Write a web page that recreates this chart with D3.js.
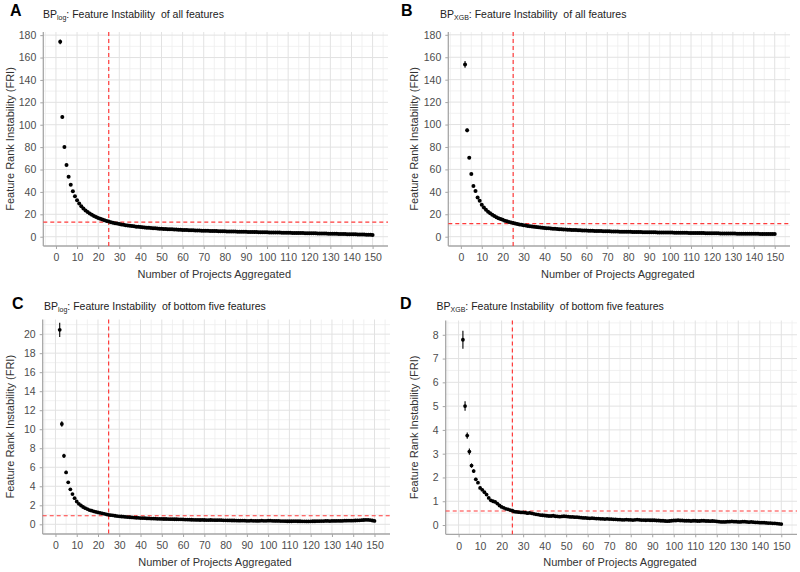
<!DOCTYPE html>
<html><head><meta charset="utf-8">
<script src="https://cdn.jsdelivr.net/npm/d3@7"></script>
<style>
body{margin:0;background:#fff;}
text{font-family:"Liberation Sans",Arial,sans-serif;}
</style></head>
<body><svg id="chart" width="800" height="572"></svg>
<script>
// ---------- DATA ----------
const projectsAggregated = d3.range(2, 151); // x values 2..150
const xTicks = [0,10,20,30,40,50,60,70,80,90,100,110,120,130,140,150];

const fri_all_log = [174,107,80,64,53.5,46.5,40.5,36.2,32.5,
29.6,27.2,25.2,23.5,22.0,20.7,19.5,18.5,17.6,16.8,
16.0,15.3,14.7,14.1,13.5,13.0,12.5,12.1,11.7,11.3,
10.95,10.6,10.3,10.0,9.75,9.5,9.25,9.0,8.8,8.6,
8.4,8.2,8.05,7.9,7.75,7.6,7.45,7.3,7.2,7.05,
6.95,6.85,6.75,6.65,6.55,6.45,6.35,6.25,6.15,6.05,
5.97,5.9,5.82,5.75,5.68,5.6,5.53,5.47,5.4,5.34,
5.28,5.22,5.16,5.1,5.05,5.0,4.95,4.9,4.85,4.8,
4.75,4.7,4.65,4.6,4.55,4.5,4.46,4.42,4.38,4.34,
4.3,4.25,4.2,4.16,4.12,4.08,4.03,3.98,3.94,3.9,
3.86,3.82,3.78,3.74,3.7,3.66,3.62,3.58,3.54,3.5,
3.46,3.42,3.38,3.34,3.3,3.26,3.22,3.18,3.14,3.1,
3.06,3.02,2.98,2.94,2.9,2.85,2.8,2.76,2.72,2.68,
2.63,2.58,2.54,2.5,2.45,2.4,2.35,2.3,2.25,2.2,
2.15,2.1,2.04,1.98,1.92,1.86,1.8,1.74,1.68,1.6];
const err_all_log = [2.2,1.4,1.0,0.8,0.7,0.6,0.5,0.45,0.4];

const fri_all_xgb = [153.6,94.8,70.4,56,45.2,40.8,35,32,28.5,
26.0,24.0,22.3,20.8,19.5,18.4,17.4,16.5,15.7,15.0,
14.3,13.7,13.1,12.6,12.1,11.7,11.3,10.9,10.55,10.2,
9.9,9.6,9.35,9.1,8.85,8.6,8.4,8.2,8.0,7.8,
7.62,7.45,7.3,7.15,7.0,6.85,6.72,6.6,6.48,6.36,
6.25,6.15,6.05,5.95,5.86,5.77,5.68,5.6,5.52,5.44,
5.37,5.3,5.23,5.16,5.1,5.04,4.98,4.92,4.86,4.8,
4.75,4.7,4.65,4.6,4.55,4.5,4.46,4.42,4.38,4.34,
4.3,4.26,4.22,4.18,4.14,4.1,4.06,4.03,4.0,3.97,
3.94,3.9,3.87,3.84,3.81,3.78,3.75,3.72,3.69,3.66,
3.63,3.6,3.57,3.54,3.51,3.48,3.45,3.42,3.39,3.36,
3.33,3.3,3.27,3.24,3.21,3.18,3.15,3.12,3.09,3.06,
3.03,3.0,2.97,2.94,2.91,2.88,2.85,2.82,2.79,2.76,
2.74,2.72,2.7,2.68,2.66,2.64,2.62,2.6,2.58,2.56,
2.54,2.52,2.5,2.48,2.46,2.44,2.42,2.4,2.38,2.36];
const err_all_xgb = [3.0,1.6,1.0,0.8,0.7,0.6,0.5,0.45,0.4];

const fri_bottom_log = [20.45,10.55,7.2,5.46,4.41,3.68,3.18,2.75,2.4,
2.15,1.98,1.82,1.7,1.6,1.5,1.43,1.36,1.3,1.25,
1.2,1.15,1.1,1.05,1.0,0.96,0.94,0.9,0.87,0.84,
0.82,0.8,0.78,0.76,0.74,0.72,0.71,0.69,0.68,0.66,
0.65,0.64,0.62,0.62,0.6,0.6,0.59,0.58,0.58,0.57,
0.56,0.56,0.55,0.54,0.54,0.53,0.53,0.52,0.52,0.51,
0.5,0.5,0.49,0.48,0.47,0.46,0.46,0.45,0.46,0.45,
0.44,0.44,0.45,0.44,0.43,0.43,0.44,0.43,0.42,0.42,
0.41,0.41,0.4,0.4,0.39,0.38,0.38,0.39,0.38,0.37,
0.37,0.38,0.37,0.37,0.36,0.37,0.38,0.37,0.37,0.38,
0.38,0.37,0.36,0.36,0.35,0.34,0.34,0.33,0.32,0.32,
0.32,0.33,0.33,0.32,0.32,0.31,0.31,0.3,0.3,0.31,
0.32,0.32,0.33,0.33,0.34,0.34,0.35,0.35,0.34,0.35,
0.36,0.36,0.37,0.36,0.37,0.38,0.38,0.39,0.38,0.39,
0.4,0.41,0.42,0.43,0.45,0.47,0.46,0.44,0.4,0.36];
const err_bottom_log = [0.75,0.3,0.22,0.18,0.14,0.12,0.1,0.09,0.08,0.07,0.07,0.06,0.06,0.06,0.05];

const fri_bottom_xgb = [7.79,5.0,3.76,3.09,2.5,2.27,1.92,1.78,1.56,
1.48,1.38,1.28,1.14,1.04,1.0,0.97,0.9,0.82,0.76,
0.72,0.68,0.66,0.63,0.6,0.56,0.55,0.54,0.53,0.53,
0.52,0.5,0.51,0.49,0.47,0.45,0.44,0.42,0.41,0.4,
0.39,0.38,0.38,0.39,0.37,0.36,0.35,0.36,0.37,0.36,
0.35,0.34,0.34,0.33,0.33,0.32,0.31,0.3,0.3,0.29,
0.28,0.29,0.28,0.27,0.27,0.26,0.26,0.25,0.26,0.25,
0.25,0.24,0.24,0.23,0.23,0.22,0.22,0.23,0.22,0.22,
0.21,0.22,0.23,0.22,0.21,0.21,0.2,0.21,0.2,0.2,
0.2,0.19,0.19,0.18,0.18,0.17,0.16,0.17,0.18,0.19,
0.19,0.2,0.19,0.19,0.18,0.18,0.18,0.17,0.18,0.18,
0.17,0.17,0.18,0.18,0.17,0.17,0.16,0.17,0.16,0.15,
0.14,0.13,0.13,0.13,0.14,0.14,0.15,0.14,0.14,0.13,
0.13,0.14,0.14,0.13,0.12,0.13,0.12,0.11,0.11,0.1,
0.1,0.1,0.09,0.08,0.08,0.07,0.07,0.06,0.05,0.04];
const err_bottom_xgb = [0.38,0.2,0.13,0.13,0.09,0.08,0.07,0.06,0.06,0.05,0.05,0.05,0.04,0.04,0.04,0.04,0.04,0.04,0.04,0.04];

const yTicksAll = [0,20,40,60,80,100,120,140,160,180];
const yTicksBottomLog = [0,2,4,6,8,10,12,14,16,18,20];
const yTicksBottomXgb = [0,1,2,3,4,5,6,7,8];

const cutoffProjects = 25;
const thresholds = {A:13, B:11.6, C:0.9, D:0.59};

const panelLetters = ["A","B","C","D"];
const modelSubs = ["log","XGB","log","XGB"];
const titleTails = [": Feature Instability  of all features", ": Feature Instability  of all features",
  ": Feature Instability  of bottom five features", ": Feature Instability  of bottom five features"];
const xLabel = "Number of Projects Aggregated";
const yLabel = "Feature Rank Instability (FRI)";

// ---------- LAYOUT ----------
const layout = [
  {vals:fri_all_log, err:err_all_log, ticks:yTicksAll, minorStep:10, yDom:[-8.3,182.8], L:43.3, R:388, T:32, B:246, letterX:10, letterY:16, titleX:43, titleY:18, ylabX:10},
  {vals:fri_all_xgb, err:err_all_xgb, ticks:yTicksAll, minorStep:10, yDom:[-8.3,182.5], L:448.3, R:790, T:32, B:246, letterX:401, letterY:16, titleX:440, titleY:18, ylabX:414},
  {vals:fri_bottom_log, err:err_bottom_log, ticks:yTicksBottomLog, minorStep:1, yDom:[-1.02,21.54], L:42.7, R:390, T:319.5, B:534, letterX:12, letterY:309, titleX:44, titleY:310, ylabX:10},
  {vals:fri_bottom_xgb, err:err_bottom_xgb, ticks:yTicksBottomXgb, minorStep:0.5, yDom:[-0.39,8.6], L:445.7, R:797, T:320.5, B:534.3, letterX:400, letterY:309, titleX:436.5, titleY:310, ylabX:414}
];

const svg = d3.select("#chart");
const gridMajor = "#e2e2e2", gridMinor = "#eeeeee", axisCol = "#a6a6a6", red = "#ff3b3b";

layout.forEach((p, i) => {
  const key = panelLetters[i];
  const x = d3.scaleLinear().domain([-6, 157.3]).range([p.L, p.R]);
  const y = d3.scaleLinear().domain(p.yDom).range([p.B, p.T]);
  const g = svg.append("g");

  // minor grid
  const xMinor = d3.range(-5, 158, 10);
  const yMinor = d3.range(Math.ceil(p.yDom[0]/p.minorStep)*p.minorStep, p.yDom[1], p.minorStep)
      .filter(v => !p.ticks.some(t => Math.abs(t - v) < 1e-9));
  g.selectAll(".xmin").data(xMinor).join("line")
    .attr("x1", d => x(d)).attr("x2", d => x(d)).attr("y1", p.T).attr("y2", p.B)
    .attr("stroke", gridMinor).attr("stroke-width", 0.8);
  g.selectAll(".ymin").data(yMinor).join("line")
    .attr("x1", p.L).attr("x2", p.R).attr("y1", d => y(d)).attr("y2", d => y(d))
    .attr("stroke", gridMinor).attr("stroke-width", 0.8);
  // major grid
  g.selectAll(".xmaj").data(xTicks).join("line")
    .attr("x1", d => x(d)).attr("x2", d => x(d)).attr("y1", p.T).attr("y2", p.B)
    .attr("stroke", gridMajor).attr("stroke-width", 1);
  g.selectAll(".ymaj").data(p.ticks).join("line")
    .attr("x1", p.L).attr("x2", p.R).attr("y1", d => y(d)).attr("y2", d => y(d))
    .attr("stroke", gridMajor).attr("stroke-width", 1);

  // axes
  const xAxis = g.append("g").attr("transform", `translate(0,${p.B})`)
    .call(d3.axisBottom(x).tickValues(xTicks).tickSize(3).tickPadding(5).tickSizeOuter(0));
  const yAxis = g.append("g").attr("transform", `translate(${p.L},0)`)
    .call(d3.axisLeft(y).tickValues(p.ticks).tickSize(3).tickPadding(4).tickSizeOuter(0));
  [xAxis, yAxis].forEach(a => {
    a.select(".domain").attr("stroke", axisCol).attr("stroke-width", 1.3);
    a.selectAll(".tick line").attr("stroke", axisCol);
    a.selectAll(".tick text").attr("fill", "#4d4d4d").style("font-size", "10.5px")
      .style("font-family", '"Liberation Sans",Arial,sans-serif');
  });
  // extend x axis domain line across full width
  xAxis.select(".domain").attr("d", `M${p.L},0H${p.R}`);
  yAxis.select(".domain").attr("d", `M0,${p.T}V${p.B}`);

  // reference lines
  g.append("line").attr("x1", x(cutoffProjects)).attr("x2", x(cutoffProjects))
    .attr("y1", p.T).attr("y2", p.B).attr("stroke", red).attr("stroke-width", 1.2).attr("stroke-dasharray", "4,3");
  g.append("line").attr("x1", p.L).attr("x2", p.R).attr("y1", y(thresholds[key])).attr("y2", y(thresholds[key]))
    .attr("stroke", red).attr("stroke-width", 1.2).attr("stroke-dasharray", "4,3");

  // error bars
  const pts = projectsAggregated.map((n, j) => ({n, v: p.vals[j], e: p.err[j]}));
  g.selectAll(".err").data(pts.filter(d => d.e !== undefined)).join("line")
    .attr("x1", d => x(d.n)).attr("x2", d => x(d.n))
    .attr("y1", d => y(d.v - d.e)).attr("y2", d => y(d.v + d.e))
    .attr("stroke", "#000").attr("stroke-width", 1.1);
  // points
  g.selectAll(".pt").data(pts).join("circle")
    .attr("cx", d => x(d.n)).attr("cy", d => y(d.v)).attr("r", i < 2 ? 2 : 1.9)
    .attr("fill", "#000");

  // labels
  svg.append("text").attr("x", p.letterX).attr("y", p.letterY)
    .style("font-size", "16px").style("font-weight", "bold").attr("fill", "#000").text(key);
  const t = svg.append("text").attr("x", p.titleX).attr("y", p.titleY)
    .style("font-size", "10.5px").attr("fill", "#222").style("white-space", "pre");
  t.append("tspan").text("BP");
  t.append("tspan").attr("dy", 2).style("font-size", "7px").text(modelSubs[i]);
  t.append("tspan").attr("dy", -2).text(titleTails[i]);

  svg.append("text").attr("x", (x(0) + x(150)) / 2).attr("y", p.B + 32)
    .attr("text-anchor", "middle").style("font-size", "11px").attr("fill", "#333").text(xLabel);
  svg.append("text").attr("transform", `translate(${p.ylabX},${(p.T + p.B) / 2}) rotate(-90)`)
    .attr("text-anchor", "middle").attr("dy", "0.35em").style("font-size", "11px").attr("fill", "#333").text(yLabel);
});
</script></body></html>
